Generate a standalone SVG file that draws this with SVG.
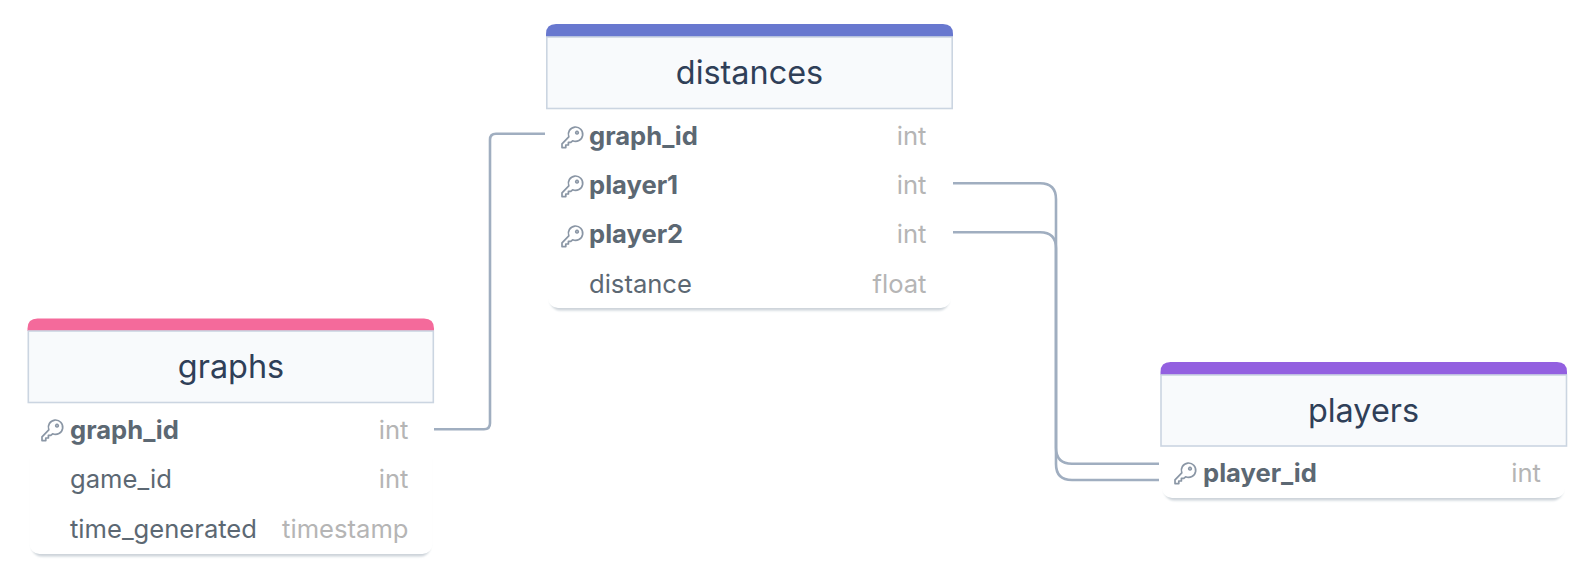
<svg xmlns="http://www.w3.org/2000/svg" width="1595" height="584" viewBox="0 0 1595 584">
<defs>
<filter id="sh" x="-5%" y="-10%" width="110%" height="125%"><feGaussianBlur stdDeviation="0.9"/></filter>
<path id="key" d="M7.800 9.800 L1 16.800 V20.600 H4.800 V18 H7.400 V15.400 H9.800 L11.600 13.800 A7.200 7.200 0 1 0 7.800 9.800 Z M16 4.400 A1.300 1.300 0 1 0 16.010 4.400" fill="none" stroke="#8a96a5" stroke-width="1.700" stroke-linejoin="round"/>
</defs>
<style>
text{font-family:Inter,"Liberation Sans",sans-serif}
.title{font-size:32.400px;fill:#2f3f58;text-anchor:middle}
.pk{font-size:25.600px;font-weight:700;fill:#5c6873}
.col{font-size:25.600px;fill:#5c6873}
.ty{font-size:25.600px;fill:#b5b5b5;text-anchor:end}
.head{fill:#f8fafc;stroke:#cbd5e1;stroke-width:1.600}
.body{fill:#fff}
.shadow{fill:#ccd3d9;filter:url(#sh)}
.conn{fill:none;stroke:#a0aec0;stroke-width:2.600}
</style>
<rect width="1595" height="584" fill="#fff"/>
<g id="connectors">
<path class="conn" d="M434 429.300H484Q490 429.300 490 423.300V139.700Q490 133.700 496 133.700H545"/>
<path class="conn" d="M953 183.300H1040Q1056 183.300 1056 199.300V447.700Q1056 463.700 1072 463.700H1159"/>
<path class="conn" d="M953 232.300H1040Q1056 232.300 1056 248.300V464Q1056 480 1072 480H1159"/>
</g>
<g id="node-distances">
<rect class="shadow" x="550" y="200" width="399" height="110.500" rx="10"/>
<rect class="body" x="548" y="60" width="403" height="248" rx="10"/>
<path d="M546 37V34Q546 24 556 24H943Q953 24 953 34V37Z" fill="#6878cf"/>
<rect class="head" x="546.800" y="37" width="405.400" height="71.500"/>
<text class="title" x="749.500" y="84">distances</text>
<use href="#key" x="561" y="127"/><text class="pk" x="589" y="145">graph_id</text><text class="ty" x="926.500" y="145">int</text>
<use href="#key" x="561" y="176"/><text class="pk" x="589" y="194">player1</text><text class="ty" x="926.500" y="194">int</text>
<use href="#key" x="561" y="226"/><text class="pk" x="589" y="243">player2</text><text class="ty" x="926.500" y="243">int</text>
<text class="col" x="589" y="293">distance</text><text class="ty" x="926.500" y="293">float</text>
</g>
<g id="node-graphs">
<rect class="shadow" x="31.500" y="450" width="399" height="106.500" rx="10"/>
<rect class="body" x="29.500" y="360" width="403" height="194" rx="10"/>
<path d="M27.500 331V328.400Q27.500 318.400 37.500 318.400H424Q434 318.400 434 328.400V331Z" fill="#f46a9b"/>
<rect class="head" x="28.300" y="331" width="405" height="71.500"/>
<text class="title" x="231" y="378">graphs</text>
<use href="#key" x="41" y="420"/><text class="pk" x="70" y="439">graph_id</text><text class="ty" x="408.500" y="439">int</text>
<text class="col" x="70" y="488">game_id</text><text class="ty" x="408.500" y="488">int</text>
<text class="col" x="70" y="538">time_generated</text><text class="ty" x="408.500" y="538">timestamp</text>
</g>
<g id="node-players">
<rect class="shadow" x="1164" y="440" width="399" height="60.500" rx="10"/>
<rect class="body" x="1162" y="405" width="403" height="93" rx="10"/>
<path d="M1160.500 375V372Q1160.500 362 1170.500 362H1557Q1567 362 1567 372V375Z" fill="#9360e0"/>
<rect class="head" x="1161" y="375" width="405.500" height="71"/>
<text class="title" x="1363.500" y="422">players</text>
<use href="#key" x="1174" y="463"/><text class="pk" x="1203" y="482">player_id</text><text class="ty" x="1541" y="482">int</text>
</g>
</svg>
